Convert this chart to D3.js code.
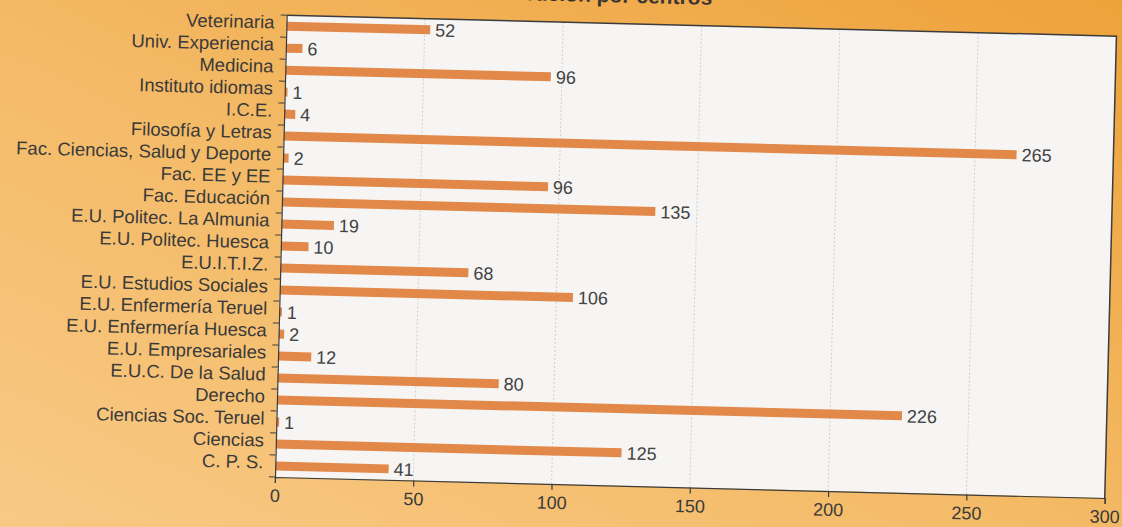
<!DOCTYPE html>
<html>
<head>
<meta charset="utf-8">
<script src="https://cdn.jsdelivr.net/npm/d3@7"></script>
<style>
  html, body { margin: 0; padding: 0; }
  body { width: 1122px; height: 527px; overflow: hidden; }
</style>
</head>
<body>
<div id="chart"></div>
<script>
// data, top to bottom
const centros = [
  "Veterinaria", "Univ. Experiencia", "Medicina", "Instituto idiomas", "I.C.E.",
  "Filosofía y Letras", "Fac. Ciencias, Salud y Deporte", "Fac. EE y EE", "Fac. Educación",
  "E.U. Politec. La Almunia", "E.U. Politec. Huesca", "E.U.I.T.I.Z.", "E.U. Estudios Sociales",
  "E.U. Enfermería Teruel", "E.U. Enfermería Huesca", "E.U. Empresariales", "E.U.C. De la Salud",
  "Derecho", "Ciencias Soc. Teruel", "Ciencias", "C. P. S."
];
const valores = [52, 6, 96, 1, 4, 265, 2, 96, 135, 19, 10, 68, 106, 1, 2, 12, 80, 226, 1, 125, 41];
const xTicks = [0, 50, 100, 150, 200, 250, 300];
const titulo = "Distribución por centros";

const W = 1122, H = 527;
const plotW = 830, plotH = 462;
const angle = 1.45; // the scan is slightly tilted

const svg = d3.select("#chart").append("svg")
  .attr("width", W)
  .attr("height", H);

// orange page background
const defs = svg.append("defs");
const grad = defs.append("linearGradient").attr("id", "bg").attr("x1", "0").attr("y1", "1").attr("x2", "1").attr("y2", "0");
grad.append("stop").attr("offset", "0%").attr("stop-color", "#f8c985");
grad.append("stop").attr("offset", "45%").attr("stop-color", "#f4bb68");
grad.append("stop").attr("offset", "100%").attr("stop-color", "#eea23a");
svg.append("rect").attr("width", W).attr("height", H).attr("fill", "url(#bg)");

const g = svg.append("g")
  .attr("transform", `translate(275,477) rotate(${angle})`);

const x = d3.scaleLinear().domain([0, 300]).range([0, plotW]);
const y = d3.scaleBand().domain(centros).range([-plotH, 0]);

const font = "'Liberation Sans', Arial, sans-serif";

// title, mostly cut off by the top edge (as in the scan)
g.append("text")
  .attr("x", 425).attr("y", -483)
  .attr("text-anchor", "end")
  .style("font-family", font)
  .style("font-weight", "bold")
  .style("font-size", "21px")
  .style("fill", "#3a3530")
  .text(titulo);

// plot area
g.append("rect")
  .attr("x", 0).attr("y", -plotH)
  .attr("width", plotW).attr("height", plotH)
  .attr("fill", "#f6f5f3");

// grid
g.selectAll(".grid")
  .data(xTicks.filter(d => d > 0 && d < 300))
  .join("line")
  .attr("x1", d => x(d)).attr("x2", d => x(d))
  .attr("y1", -plotH).attr("y2", 0)
  .attr("stroke", "#d0d0d0")
  .attr("stroke-dasharray", "2,2")
  .attr("stroke-width", 1);

// frame top + right
g.append("path")
  .attr("d", `M0,${-plotH}H${plotW}V0`)
  .attr("fill", "none")
  .attr("stroke", "#3c3c3c")
  .attr("stroke-width", 1.5);

// bars
g.selectAll(".bar")
  .data(valores)
  .join("rect")
  .attr("x", 0)
  .attr("y", (d, i) => y(centros[i]) + y.bandwidth() / 2 - 4.5)
  .attr("width", d => x(d))
  .attr("height", 9)
  .attr("fill", "#e2894a");

// value labels
g.selectAll(".val")
  .data(valores)
  .join("text")
  .attr("x", d => x(d) + 5)
  .attr("y", (d, i) => y(centros[i]) + y.bandwidth() / 2 + 6.5)
  .style("font-family", font)
  .style("font-size", "18px")
  .style("fill", "#424242")
  .text(d => d);

// axes
const xAxis = g.append("g")
  .call(d3.axisBottom(x).tickValues(xTicks).tickSize(6).tickPadding(6));
const yAxis = g.append("g")
  .call(d3.axisLeft(y).tickSize(0).tickPadding(12));

// category ticks sit on the band borders
g.selectAll(".ytick")
  .data(d3.range(centros.length + 1))
  .join("line")
  .attr("x1", -6).attr("x2", 0)
  .attr("y1", i => -plotH + i * y.step())
  .attr("y2", i => -plotH + i * y.step())
  .attr("stroke", "#3c3c3c");

[xAxis, yAxis].forEach(a => {
  a.selectAll("path, line").attr("stroke", "#3c3c3c").attr("stroke-width", 1.2);
  a.selectAll("text")
    .style("font-family", font)
    .style("font-size", "18px")
    .style("fill", "#3a3a3a");
});
yAxis.selectAll("text").style("font-size", "18.5px").attr("dy", "0.15em");
</script>
</body>
</html>
